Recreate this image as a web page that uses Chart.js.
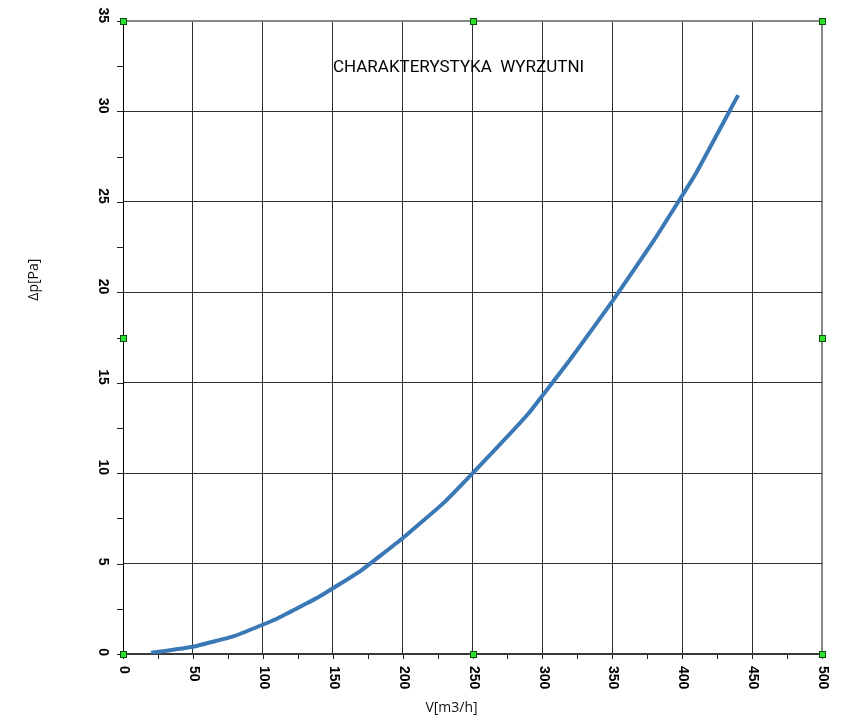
<!DOCTYPE html>
<html>
<head>
<meta charset="utf-8">
<script src="https://cdn.jsdelivr.net/npm/chart.js@4/dist/chart.umd.min.js"></script>
<style>
  body { margin: 0; background: #fff; }
</style>
</head>
<body>
<canvas id="chart" width="851" height="728"></canvas>
<script>
// V [m3/h] vs dp [Pa]
var flowValues = [20, 50, 80, 110, 140, 170, 200, 230, 260, 290, 320, 350, 380, 410, 440];
var pressureValues = [0.06, 0.4, 1.0, 1.95, 3.15, 4.6, 6.4, 8.4, 10.8, 13.3, 16.3, 19.5, 22.9, 26.6, 30.9];
var xTickLabels = ['0', '50', '100', '150', '200', '250', '300', '350', '400', '450', '500'];
var yTickLabels = ['0', '5', '10', '15', '20', '25', '30', '35'];
var chartTitle = 'CHARAKTERYSTYKA  WYRZUTNI';
var xTitle = 'V[m3/h]';
var yTitle = '\u0394p[Pa]';

var points = flowValues.map(function (v, i) {
    return { x: v, y: pressureValues[i] };
});

var extras = {
    id: 'extras',
    afterDraw: function (chart) {
        var ctx = chart.ctx;
        var xs = chart.scales.x;
        var ys = chart.scales.y;
        var area = chart.chartArea;
        ctx.save();

        // small ticks
        ctx.strokeStyle = '#222';
        ctx.lineWidth = 1;
        for (var v = 0; v <= 35; v += 2.5) {
            var py = Math.round(ys.getPixelForValue(v)) + 0.5;
            ctx.beginPath();
            ctx.moveTo(area.left - 6, py);
            ctx.lineTo(area.left, py);
            ctx.stroke();
        }
        for (var u = 0; u <= 500; u += 25) {
            var px = Math.round(xs.getPixelForValue(u)) + 0.5;
            ctx.beginPath();
            ctx.moveTo(px, area.bottom);
            ctx.lineTo(px, area.bottom + 5);
            ctx.stroke();
        }

        // tick labels, turned clockwise
        ctx.fillStyle = '#000';
        ctx.font = 'bold 14px "Liberation Sans", Arial, sans-serif';
        ctx.textBaseline = 'middle';
        xTickLabels.forEach(function (lab) {
            var px = xs.getPixelForValue(Number(lab));
            ctx.save();
            ctx.translate(px + 1, area.bottom + 12);
            ctx.rotate(Math.PI / 2);
            ctx.textAlign = 'left';
            ctx.fillText(lab, 0, 0);
            ctx.restore();
        });
        yTickLabels.forEach(function (lab) {
            var py = ys.getPixelForValue(Number(lab));
            ctx.save();
            ctx.translate(area.left - 20, py + 2);
            ctx.rotate(Math.PI / 2);
            ctx.textAlign = 'right';
            ctx.fillText(lab, 0, 0);
            ctx.restore();
        });

        // title inside the plot
        ctx.font = '17px Roboto, sans-serif';
        ctx.textAlign = 'center';
        ctx.fillText(chartTitle, xs.getPixelForValue(240), ys.getPixelForValue(32.4));

        // axis titles
        ctx.font = '14px "Open Sans", sans-serif';
        ctx.fillStyle = '#111';
        ctx.fillText(xTitle, xs.getPixelForValue(235), area.bottom + 54);
        ctx.save();
        ctx.translate(34, ys.getPixelForValue(20.7));
        ctx.rotate(-Math.PI / 2);
        ctx.fillText(yTitle, 0, 0);
        ctx.restore();

        // green handles
        var handles = [[0, 0], [250, 0], [500, 0], [0, 17.5], [500, 17.5], [0, 35], [250, 35], [500, 35]];
        handles.forEach(function (h) {
            var hx = Math.round(xs.getPixelForValue(h[0]));
            var hy = Math.round(ys.getPixelForValue(h[1]));
            ctx.fillStyle = '#2ee02e';
            ctx.fillRect(hx - 3, hy - 3, 7, 7);
            ctx.strokeStyle = '#0a4a0a';
            ctx.strokeRect(hx - 3 + 0.5, hy - 3 + 0.5, 6, 6);
        });

        ctx.restore();
    }
};

var chart = new Chart(document.getElementById('chart').getContext('2d'), {
    type: 'line',
    data: {
        datasets: [{
            label: 'dp',
            data: points,
            borderColor: '#3b78b6',
            borderWidth: 4,
            pointRadius: 0,
            tension: 0.1,
            fill: false
        }]
    },
    options: {
        responsive: false,
        animation: false,
        layout: {
            padding: { left: 123, top: 21, right: 29, bottom: 74 }
        },
        plugins: {
            legend: { display: false },
            tooltip: { enabled: false }
        },
        scales: {
            x: {
                type: 'linear',
                min: 0,
                max: 500,
                ticks: { display: false, stepSize: 50 },
                grid: {
                    drawTicks: false,
                    color: function (c) { return c.tick && c.tick.value === 500 ? '#888' : '#2e2e2e'; },
                    lineWidth: function (c) { return c.tick && c.tick.value === 500 ? 2 : 1; }
                },
                border: { color: '#3a3a3a', width: 2 }
            },
            y: {
                type: 'linear',
                min: 0,
                max: 35,
                ticks: { display: false, stepSize: 5 },
                grid: {
                    drawTicks: false,
                    color: function (c) { return c.tick && c.tick.value === 35 ? '#888' : '#2e2e2e'; },
                    lineWidth: function (c) { return c.tick && c.tick.value === 35 ? 2 : 1; }
                },
                border: { color: '#000', width: 1 }
            }
        }
    },
    plugins: [extras]
});
</script>
</body>
</html>
